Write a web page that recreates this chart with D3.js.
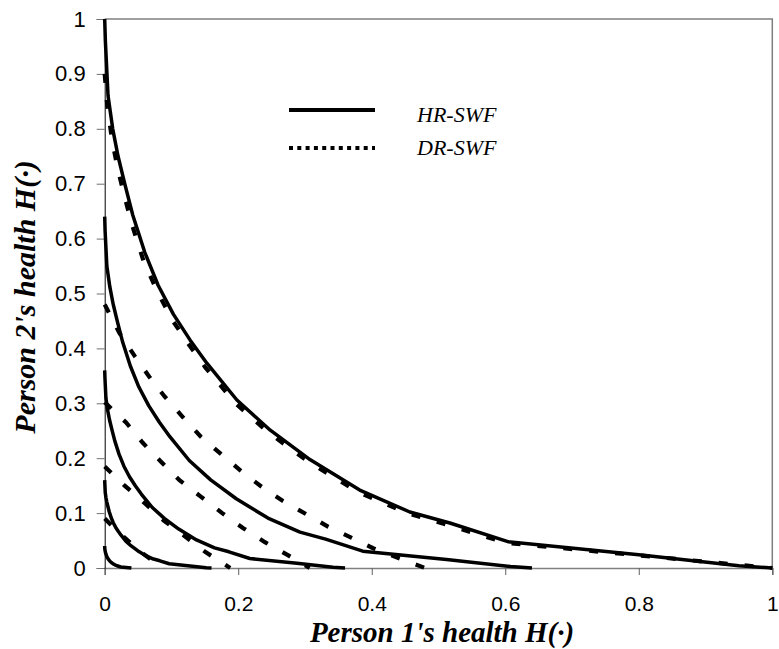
<!DOCTYPE html>
<html>
<head>
<meta charset="utf-8">
<script src="https://cdnjs.cloudflare.com/ajax/libs/d3/7.8.5/d3.min.js"></script>
<style>
  body { margin: 0; background: #fff; }
  svg { display: block; }
</style>
</head>
<body>
<div id="chart"></div>
<script>
let w = 779,
    h = 649;

let margin = {
  top: 19,
  bottom: 81,
  left: 104.7,
  right: 6.7
};

let width = w - margin.left - margin.right;
let height = h - margin.top - margin.bottom;

// tick values
let xTicks = [0, 0.2, 0.4, 0.6, 0.8, 1];
let yTicks = [0, 0.1, 0.2, 0.3, 0.4, 0.5, 0.6, 0.7, 0.8, 0.9, 1];

let legendLabels = ["HR-SWF", "DR-SWF"];

// HR-SWF curves (solid)
let hr1 = [[0, 1], [0.001, 0.96], [0.005, 0.86], [0.012, 0.8], [0.02, 0.75], [0.03, 0.7], [0.042, 0.643],
  [0.06, 0.575], [0.08, 0.515], [0.103, 0.462], [0.128, 0.415], [0.153, 0.373], [0.198, 0.306],
  [0.248, 0.251], [0.308, 0.197], [0.382, 0.142], [0.457, 0.102], [0.517, 0.082], [0.604, 0.048],
  [0.8, 0.024], [0.95, 0.004], [1, 0]];
let hr2 = [[0, 0.64], [0.0006, 0.614], [0.0032, 0.55], [0.0077, 0.512], [0.0128, 0.48], [0.0192, 0.448],
  [0.0269, 0.4115], [0.0384, 0.368], [0.0512, 0.3296], [0.0659, 0.2957], [0.0819, 0.2656], [0.0979, 0.2387],
  [0.1267, 0.1958], [0.1587, 0.1606], [0.1971, 0.1261], [0.2445, 0.0909], [0.2925, 0.0653], [0.3309, 0.0525],
  [0.3866, 0.0307], [0.512, 0.0154], [0.608, 0.0026], [0.64, 0]];
let hr3 = [[0, 0.36], [0.0004, 0.3456], [0.0018, 0.3096], [0.0043, 0.288], [0.0072, 0.27], [0.0108, 0.252],
  [0.0151, 0.2315], [0.0216, 0.207], [0.0288, 0.1854], [0.0371, 0.1663], [0.0461, 0.1494], [0.0551, 0.1343],
  [0.0713, 0.1102], [0.0893, 0.0904], [0.1109, 0.0709], [0.1375, 0.0511], [0.1645, 0.0367], [0.1861, 0.0295],
  [0.2174, 0.0173], [0.288, 0.0086], [0.342, 0.0014], [0.36, 0]];
let hr4 = [[0, 0.16], [0.0002, 0.1536], [0.0008, 0.1376], [0.0019, 0.128], [0.0032, 0.12], [0.0048, 0.112],
  [0.0067, 0.1029], [0.0096, 0.092], [0.0128, 0.0824], [0.0165, 0.0739], [0.0205, 0.0664], [0.0245, 0.0597],
  [0.0317, 0.049], [0.0397, 0.0402], [0.0493, 0.0315], [0.0611, 0.0227], [0.0731, 0.0163], [0.0827, 0.0131],
  [0.0966, 0.0077], [0.128, 0.0038], [0.152, 0.0006], [0.16, 0]];
let hr5 = [[0, 0.04], [0.0002, 0.0344], [0.0008, 0.03], [0.0017, 0.0257], [0.0032, 0.0206], [0.0051, 0.0166],
  [0.0079, 0.0122], [0.0099, 0.01], [0.0123, 0.0079], [0.0153, 0.0057], [0.0183, 0.0041], [0.0242, 0.0019],
  [0.032, 0.001], [0.04, 0]];

// DR-SWF curves (dashed)
let dr1 = [[0, 0.9], [0.004, 0.84], [0.011, 0.78], [0.019, 0.73], [0.029, 0.68], [0.041, 0.625], [0.058, 0.56],
  [0.079, 0.503], [0.101, 0.452], [0.126, 0.407], [0.151, 0.365], [0.196, 0.3], [0.246, 0.246], [0.306, 0.193],
  [0.38, 0.138], [0.455, 0.099], [0.515, 0.078], [0.6, 0.046], [0.8, 0.023], [1, 0]];
let dr2 = [[0, 0.48], [0.022, 0.428], [0.045, 0.386], [0.067, 0.348], [0.09, 0.312], [0.117, 0.275],
  [0.144, 0.239], [0.174, 0.208], [0.204, 0.177], [0.235, 0.148], [0.267, 0.122], [0.302, 0.098],
  [0.335, 0.075], [0.37, 0.055], [0.402, 0.036], [0.445, 0.016], [0.48, 0]];
let dr3 = [[0, 0.302], [0.032, 0.265], [0.057, 0.228], [0.084, 0.194], [0.112, 0.16], [0.144, 0.13],
  [0.176, 0.1], [0.207, 0.073], [0.24, 0.047], [0.275, 0.023], [0.307, 0]];
let dr4 = [[0, 0.185], [0.029, 0.151], [0.06, 0.118], [0.089, 0.086], [0.121, 0.057], [0.151, 0.029], [0.188, 0]];
let dr5 = [[0, 0.09], [0.02, 0.066], [0.05, 0.033], [0.07, 0.015], [0.09, 0]];

let hrSeries = [hr1, hr2, hr3, hr4, hr5];
let drSeries = [dr1, dr2, dr3, dr4, dr5];

let svg = d3.select("#chart")
            .append("svg")
            .attr("width", w)
            .attr("height", h)
            .style("background", "#fff");

let g = svg.append("g")
           .attr("transform", "translate(" + margin.left + "," + margin.top + ")");

let x = d3.scaleLinear()
          .domain([0, 1])
          .range([0, width]);

let y = d3.scaleLinear()
          .domain([0, 1])
          .range([height, 0]);

// plot border (top + right, grey)
g.append("path")
  .attr("d", "M0,0H" + width + "V" + height)
  .attr("fill", "none")
  .attr("stroke", "#808080")
  .attr("stroke-width", 1.5);

// x axis
let xAxis = g.append("g")
  .attr("transform", "translate(0," + height + ")")
  .call(d3.axisBottom(x).tickValues(xTicks).tickFormat(d3.format("")).tickSize(7).tickPadding(21));

xAxis.select(".domain").attr("stroke", "#808080").attr("stroke-width", 1.5);
xAxis.selectAll(".tick line").attr("stroke", "#606060");
xAxis.selectAll("text")
  .style("font-family", "'Liberation Sans', Arial, sans-serif")
  .style("font-size", "21px")
  .attr("fill", "#000");

// y axis
let yAxis = g.append("g")
  .call(d3.axisLeft(y).tickValues(yTicks).tickFormat(d3.format("")).tickSize(8).tickPadding(11));

yAxis.select(".domain").attr("stroke", "#000").attr("stroke-width", 1);
yAxis.selectAll(".tick line").attr("stroke", "#707070");
yAxis.selectAll("text")
  .style("font-family", "'Liberation Sans', Arial, sans-serif")
  .style("font-size", "22px")
  .attr("fill", "#000");

let line = d3.line()
             .x(d => x(d[0]))
             .y(d => y(d[1]));

// HR-SWF solid lines
g.selectAll(".hr")
  .data(hrSeries)
  .enter()
  .append("path")
  .attr("class", "hr")
  .attr("d", line)
  .attr("fill", "none")
  .attr("stroke", "#000")
  .attr("stroke-width", 3.5)
  .attr("stroke-linejoin", "round");

// DR-SWF dashed lines
g.selectAll(".dr")
  .data(drSeries)
  .enter()
  .append("path")
  .attr("class", "dr")
  .attr("d", line)
  .attr("fill", "none")
  .attr("stroke", "#000")
  .attr("stroke-width", 4.2)
  .attr("stroke-dasharray", "9,17");

// legend
let legend = svg.append("g");
let legendStyles = [null, "4,4.3"];

legend.selectAll("line")
  .data(legendLabels)
  .enter()
  .append("line")
  .attr("x1", 289)
  .attr("x2", 375)
  .attr("y1", (d, i) => 110 + i * 38)
  .attr("y2", (d, i) => 110 + i * 38)
  .attr("stroke", "#000")
  .attr("stroke-width", 4)
  .attr("stroke-dasharray", (d, i) => legendStyles[i]);

legend.selectAll("text")
  .data(legendLabels)
  .enter()
  .append("text")
  .attr("x", 417)
  .attr("y", (d, i) => 122 + i * 33)
  .style("font-family", "'Liberation Serif', 'Times New Roman', serif")
  .style("font-style", "italic")
  .style("font-size", "22px")
  .text(d => d);

// axis titles
svg.append("text")
  .attr("x", 442)
  .attr("y", 642)
  .attr("text-anchor", "middle")
  .style("font-family", "'Liberation Serif', 'Times New Roman', serif")
  .style("font-style", "italic")
  .style("font-weight", "bold")
  .style("font-size", "29px")
  .text("Person 1's health H(\u00B7)");

svg.append("text")
  .attr("transform", "translate(35,297) rotate(-90)")
  .attr("text-anchor", "middle")
  .style("font-family", "'Liberation Serif', 'Times New Roman', serif")
  .style("font-style", "italic")
  .style("font-weight", "bold")
  .style("font-size", "30px")
  .text("Person 2's health H(\u00B7)");
</script>
</body>
</html>
